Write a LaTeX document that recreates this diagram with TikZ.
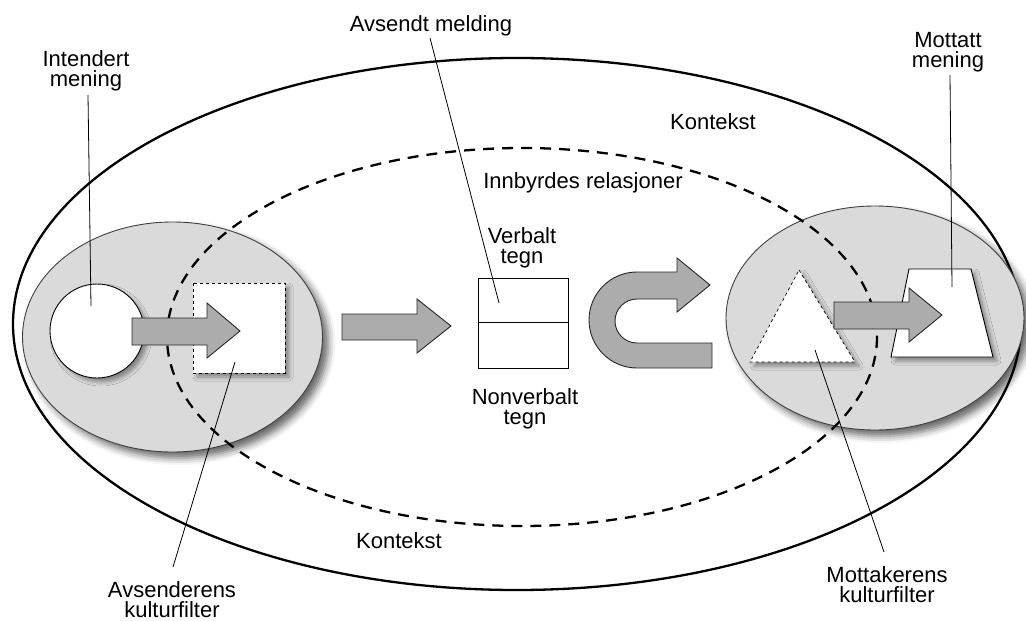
\documentclass[tikz,border=0pt]{standalone}
\usepackage{fontspec}
\setmainfont{Liberation Sans}
\usetikzlibrary{shadows.blur}
\definecolor{zonegray}{RGB}{218,218,218}
\definecolor{arrowgray}{RGB}{172,172,172}
\begin{document}
\begin{tikzpicture}[x=1pt,y=-1pt,
  lbl/.style={font=\fontsize{22}{20.5}\selectfont, align=center, inner sep=0pt, anchor=north},
  leader/.style={line width=0.8pt},
  flow/.style={fill=arrowgray, draw=black!85, line width=0.9pt, line join=miter},
  zone/.style={fill=zonegray, draw=black!75, line width=0.9pt,
    blur shadow={shadow xshift=6pt, shadow yshift=-6pt, shadow blur radius=7pt, shadow opacity=60}},
  softshadow/.style={blur shadow={shadow xshift=4pt, shadow yshift=-4pt, shadow blur radius=4pt, shadow opacity=40}},
  ctxline/.style={line width=2.3pt},
  relline/.style={line width=2.3pt, dash pattern=on 11pt off 8pt}]
\useasboundingbox (0,0) rectangle (1026,621);

% context
\draw[ctxline] (517,324) ellipse [x radius=504, y radius=266];

% cultural filters of sender and receiver
\path[zone] (172.5,337) ellipse [x radius=150, y radius=115];
\path[zone] (875,318) ellipse [x radius=149, y radius=112];

% mutual relations
\draw[relline] (522,337) ellipse [x radius=355, y radius=189];

% sender: intended meaning and filter
\draw[fill=white, line width=0.9pt, softshadow] (97,331) circle [radius=47];
\draw[fill=white, dashed, line width=0.7pt, softshadow] (193,283) rectangle (285,373);
\draw[flow] (132,318) -- (207,318) -- (207,303) -- (240,331) -- (207,358) -- (207,345) -- (132,345) -- cycle;

% sent message
\draw[flow] (342,314) -- (417,314) -- (417,299) -- (451,326) -- (417,353) -- (417,340) -- (342,340) -- cycle;
\draw[line width=0.9pt, fill=white] (478,278) rectangle (568,368);
\draw[line width=0.9pt] (478,322) -- (568,322);

% turning arrow
\draw[flow] (712,368) -- (637,368) arc[start angle=90, end angle=270, radius=48]
  -- (677,272) -- (677,258) -- (710,285) -- (677,312) -- (677,299) -- (637,299)
  arc[start angle=270, end angle=90, radius=22] -- (712,343) -- cycle;

% receiver: filter and received meaning
\draw[fill=white, dashed, line width=0.7pt, softshadow] (799,270) -- (855,362) -- (750,362) -- cycle;
\draw[fill=white, line width=0.9pt, softshadow] (909,269) -- (971,269) -- (993,357) -- (891,357) -- cycle;
\draw[flow] (834,302) -- (909,302) -- (909,288) -- (942,315) -- (909,342) -- (909,329) -- (834,329) -- cycle;

% labels
\node[lbl] (intent) at (86,50) {Intendert\\mening};
\node[lbl] (sent) at (431,15) {Avsendt melding};
\node[lbl] (recv) at (948,32) {Mottatt\\mening};
\node[lbl] (ctxtop) at (713,113) {Kontekst};
\node[lbl] (rel) at (583,172) {Innbyrdes relasjoner};
\node[lbl] (verb) at (522,227) {Verbalt\\tegn};
\node[lbl] (nonverb) at (525,388) {Nonverbalt\\tegn};
\node[lbl] (ctxbot) at (399,532) {Kontekst};
\node[lbl] (sfilter) at (172,581) {Avsenderens\\kulturfilter};
\node[lbl] (rfilter) at (887,566) {Mottakerens\\kulturfilter};

% leader lines
\coordinate (intentEnd) at (91,306);
\coordinate (sentEnd) at (499,303);
\coordinate (recvEnd) at (952,287);
\coordinate (sfilterEnd) at (235,362);
\coordinate (rfilterEnd) at (815,350);
\draw[leader] (88,95) -- (intentEnd);
\draw[leader] (430,38) -- (sentEnd);
\draw[leader] (950,75) -- (recvEnd);
\draw[leader] (173,567) -- (sfilterEnd);
\draw[leader] (884,552) -- (rfilterEnd);
\end{tikzpicture}
\end{document}
